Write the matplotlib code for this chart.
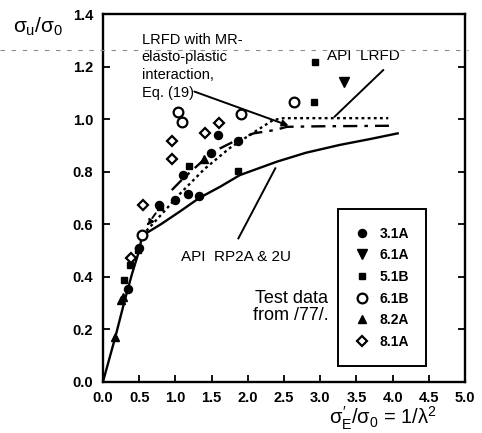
import matplotlib
matplotlib.use("Agg")
import matplotlib.pyplot as plt
from matplotlib.lines import Line2D

plt.rcParams['font.family'] = ['Liberation Sans', 'DejaVu Sans']
plt.rcParams['mathtext.fontset'] = 'custom'
plt.rcParams['mathtext.rm'] = 'Liberation Sans'
plt.rcParams['mathtext.it'] = 'Liberation Sans'
plt.rcParams['mathtext.bf'] = 'Liberation Sans:bold'

# API RP2A & 2U design curve
rp2a_x = [0, 0.17, 0.3, 0.4, 0.5, 0.54, 0.8, 1.06, 1.33, 1.62, 1.89, 2.4, 2.8, 3.27, 3.7, 4.07]
rp2a_y = [0, 0.17, 0.31, 0.41, 0.50, 0.556, 0.60, 0.648, 0.70, 0.743, 0.787, 0.838, 0.872, 0.902, 0.925, 0.946]

# API LRFD (dotted)
lrfd_x = [0.6, 0.8, 1.07, 1.4, 1.75, 2.0, 2.35, 2.5, 3.94]
lrfd_y = [0.575, 0.635, 0.718, 0.81, 0.89, 0.935, 0.997, 1.004, 1.004]

# LRFD with MR elasto-plastic interaction, Eq. (19) (dash-dot)
eq19_x = [0.95, 1.11, 1.34, 1.48, 1.85, 2.08, 2.38, 2.54, 3.0, 3.5, 3.95]
eq19_y = [0.73, 0.775, 0.832, 0.87, 0.921, 0.946, 0.959, 0.971, 0.973, 0.974, 0.975]

# test data from /77/
s31a_x = [0.34, 0.5, 0.77, 1.0, 1.10, 1.18, 1.33, 1.49, 1.59, 1.86]
s31a_y = [0.352, 0.51, 0.672, 0.692, 0.786, 0.714, 0.707, 0.872, 0.939, 0.917]
s61a_x = [3.33]
s61a_y = [1.143]
s51b_x = [0.295, 0.373, 0.49, 0.79, 1.19, 1.86, 2.92, 2.93]
s51b_y = [0.387, 0.445, 0.50, 0.665, 0.823, 0.804, 1.067, 1.219]
s61b_x = [0.534, 1.04, 1.09, 1.90, 2.64]
s61b_y = [0.559, 1.029, 0.99, 1.019, 1.067]
s82a_x = [0.166, 0.25, 0.28, 1.39]
s82a_y = [0.171, 0.31, 0.324, 0.85]
s81a_x = [0.387, 0.547, 0.957, 0.957, 1.41, 1.60]
s81a_y = [0.47, 0.673, 0.918, 0.847, 0.949, 0.984]

fig = plt.figure(figsize=(4.82, 4.33), dpi=100)
ax = fig.add_axes([103/482, 1 - 381.7/433, 362/482, 367.5/433])

ax.plot(rp2a_x, rp2a_y, color='k', lw=1.7)
ax.plot(lrfd_x, lrfd_y, color='k', lw=1.7, ls=(0, (1.2, 1.4)))
ax.plot(eq19_x, eq19_y, color='k', lw=1.7, ls=(0, (6, 3, 1.5, 3)))
ax.annotate('', xy=(0.58, 0.585), xytext=(0.75, 0.65),
            arrowprops=dict(arrowstyle='-|>', color='k', lw=1.4, ls=(0, (3, 3)), mutation_scale=9))

mk = dict(ls='none', color='k', mec='k')
ax.plot(s31a_x, s31a_y, marker='o', ms=5.8, label='3.1A', **mk)
ax.plot(s61a_x, s61a_y, marker='v', ms=6.5, label='6.1A', **mk)
ax.plot(s51b_x, s51b_y, marker='s', ms=4.8, label='5.1B', **mk)
ax.plot(s61b_x, s61b_y, marker='o', ms=7, mfc='white', mew=1.6, label='6.1B', **mk)
ax.plot(s82a_x, s82a_y, marker='^', ms=6.3, label='8.2A', **mk)
ax.plot(s81a_x, s81a_y, marker='D', ms=4.8, mfc='white', mew=1.6, label='8.1A', **mk)

# pointer lines
ax.annotate('', xy=(2.6, 0.972), xytext=(1.225, 1.109),
            arrowprops=dict(arrowstyle='-|>', color='k', lw=1.4, mutation_scale=9))
ax.plot([3.87, 3.20], [1.187, 1.01], color='k', lw=1.4)
ax.plot([1.87, 2.38], [0.546, 0.813], color='k', lw=1.4)

ax.text(0.535, 1.33, 'LRFD with MR-\nelasto-plastic\ninteraction,\nEq. (19)',
        fontsize=10.5, va='top', ha='left', linespacing=1.35)
ax.text(3.6, 1.24, 'API  LRFD', fontsize=11, ha='center', va='center')
ax.text(1.84, 0.475, 'API  RP2A & 2U', fontsize=11, ha='center', va='center')
ax.text(2.6, 0.285, 'Test data\nfrom /77/.', fontsize=13, ha='center', va='center', linespacing=1.05)

leg = ax.legend(loc='upper left', bbox_to_anchor=(0.65, 0.469), frameon=True, fancybox=False,
                framealpha=1, edgecolor='k', prop={'weight': 'bold', 'size': 10},
                borderpad=1.25, labelspacing=0.55, handlelength=0.9, handletextpad=0.8,
                borderaxespad=0)
leg.get_frame().set_linewidth(1.4)

ax.set_xlim(0, 5)
ax.set_ylim(0, 1.4)
ax.set_xticks([0, 0.5, 1, 1.5, 2, 2.5, 3, 3.5, 4, 4.5, 5])
ax.set_yticks([0, 0.2, 0.4, 0.6, 0.8, 1.0, 1.2, 1.4])
ax.xaxis.set_major_formatter(plt.FormatStrFormatter('%.1f'))
ax.yaxis.set_major_formatter(plt.FormatStrFormatter('%.1f'))
ax.tick_params(direction='in', length=5, width=1.3, right=True, top=False, pad=7, labelsize=10.5)
for lab in ax.get_xticklabels() + ax.get_yticklabels():
    lab.set_fontweight('bold')
for sp in ax.spines.values():
    sp.set_linewidth(1.7)

fig.text(13/482, 1 - 27/433, r'$σ_{u}/σ_{0}$', fontsize=15, ha='left', va='center')
fig.text(383/482, 1 - 424/433, r"$σ^{\prime}_{E}/σ_{0}$ = 1/λ$^{2}$", fontsize=14.5,
         ha='center', va='baseline')

# scan artifact: faint dashed line across the top
fig.add_artist(Line2D([0.0, 0.97], [1 - 50/433, 1 - 50/433], color='0.55', lw=0.8,
                      ls=(0, (4, 6)), transform=fig.transFigure))

fig.savefig('out.png', dpi=100)
